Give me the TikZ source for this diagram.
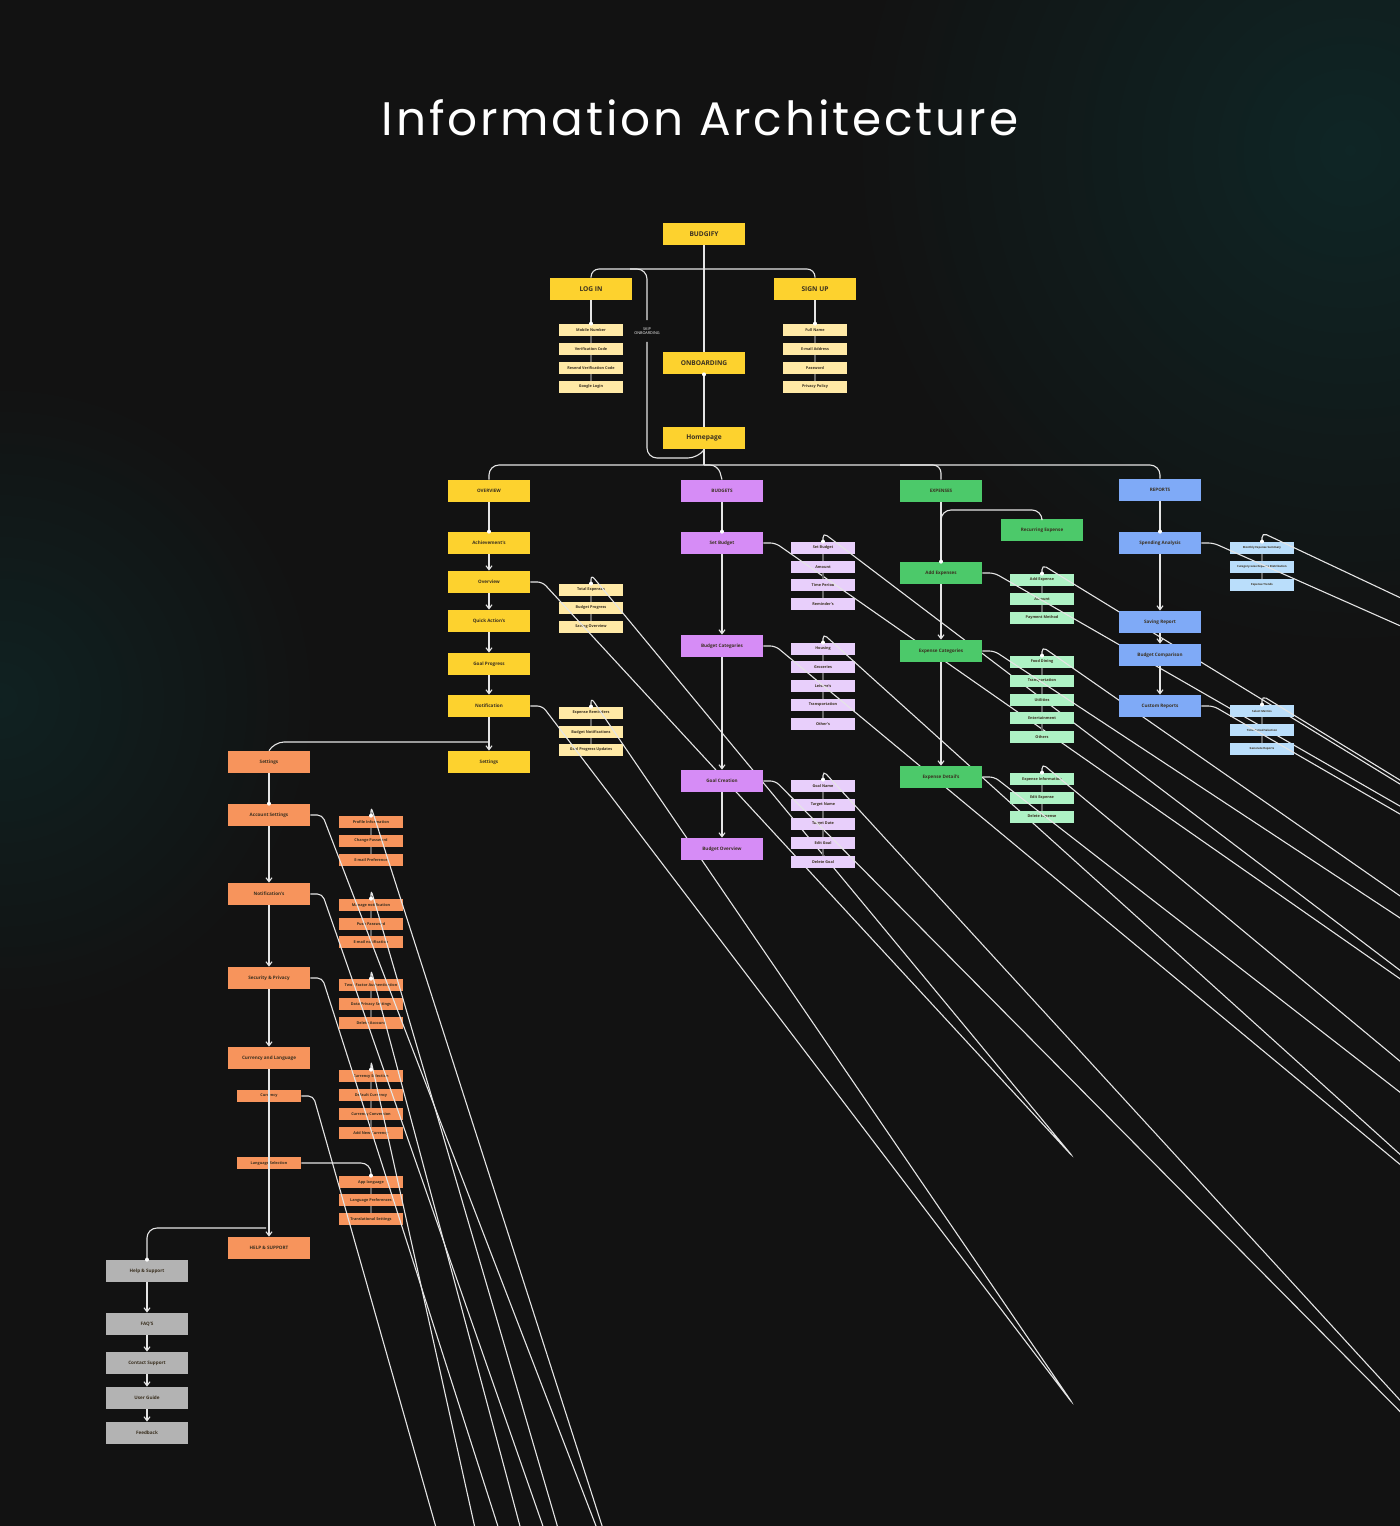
\documentclass[tikz,border=0pt]{standalone}
\usepackage{fontspec}
\setmainfont{Open Sans}
\newfontfamily\titlefont[LetterSpace=6]{Poppins}
\usetikzlibrary{calc,arrows.meta}
\definecolor{bg}{HTML}{121212}
\definecolor{yM}{HTML}{FDD22E}\definecolor{yS}{HTML}{FFE9A6}
\definecolor{pM}{HTML}{D68CF6}\definecolor{pS}{HTML}{E8CFFB}
\definecolor{gM}{HTML}{4CC96A}\definecolor{gS}{HTML}{AEF2C5}
\definecolor{bM}{HTML}{7FAAF7}\definecolor{bS}{HTML}{BADEFB}
\definecolor{oM}{HTML}{F7945C}\definecolor{grM}{HTML}{B3B3B3}
\definecolor{txt}{HTML}{3A3020}
\tikzset{
 box/.style={draw=none,inner sep=0pt,text=txt,align=center},
 top/.style={box,fill=yM,minimum width=41pt,minimum height=11pt,font=\fontsize{3.3}{4}\selectfont\bfseries},
 mainb/.style={box,minimum width=41pt,minimum height=11pt,font=\fontsize{2.3}{3}\selectfont\bfseries},
 subb/.style={box,minimum width=32pt,minimum height=6pt,font=\fontsize{1.9}{2.4}\selectfont\bfseries},
 link/.style={draw=white!90!black,line width=0.55pt},
 arr/.style={link,-{Straight Barb[length=2pt,width=3pt]}},
 chn/.style={draw=black!60,line width=0.8pt},
}
\newcommand\sidelink[2]{\draw[link,rounded corners=2.5pt] (#1.east) -- ($(#1.east)+(12,0)$) -- ($(#1.east)+(12,0)!1!(#1.east |- #2.north)+(12,-9)$) -- ($(#2.north)+(0,-9)$) -- (#2.north); \fill[white] (#2.north) circle (1pt);}
\newcommand\dotat[1]{\fill[white] (#1.north) circle (1pt);}
\begin{document}
\begin{tikzpicture}[x=0.5pt,y=-0.5pt]
\useasboundingbox (0,0) rectangle (1400,1526);
\fill[bg] (0,0) rectangle (1400,1526);
\begin{scope}
\clip (0,0) rectangle (1400,1526);
\shade[inner color=teal!18!bg, outer color=bg] (1350,150) circle (250pt);
\shade[inner color=teal!14!bg, outer color=bg] (0,700) circle (160pt);
\end{scope}
\node[text=white,font=\titlefont\fontsize{23.5}{28}\selectfont] (title) at (700,118) {Information Architecture};
% top
\node[top] (b) at (704,234) {BUDGIFY};
\node[top] (login) at (591,289) {LOG IN};
\node[top] (signup) at (815,289) {SIGN UP};
\node[top] (onb) at (704,363) {ONBOARDING};
\node[top] (home) at (704,438) {Homepage};
\foreach \n/\y/\t in {l1/330/Mobile Number,l2/349/Verification Code,l3/368/Resend Verification Code,l4/387/Google Login}{\node[subb,fill=yS] (\n) at (591,\y) {\t};}
\foreach \n/\y/\t in {s1/330/Full Name,s2/349/E-mail Address,s3/368/Password,s4/387/Privacy Policy}{\node[subb,fill=yS] (\n) at (815,\y) {\t};}
\node[text=white,font=\fontsize{1.9}{2.3}\selectfont,align=center] (skip) at (647,331) {SKIP\\ONBOARDING};
\draw[link,rounded corners=4pt] (login.north) -- (591,269) -- (815,269) -- (signup.north);
\draw[link] (b.south) -- (onb.north);
\draw[link] (onb.south) -- (home.north);
\draw[link,rounded corners=5pt] (630,269) -- (647,269) -- (skip.north);
\draw[link,rounded corners=5pt] (skip.south) -- (647,458) -- (698,458) -- (704,450);
\fill[white] (onb.south) circle (1pt);
\draw[link] (login.south) -- (l1.north); \dotat{l1}
\draw[link] (signup.south) -- (s1.north); \dotat{s1}
\foreach \a/\c in {l1/l2,l2/l3,l3/l4,s1/s2,s2/s3,s3/s4}{\draw[chn] (\a.south) -- (\c.north);}
% level 2
\node[mainb,fill=yM] (ov) at (489,491) {OVERVIEW};
\node[mainb,fill=pM] (bu) at (722,491) {BUDGETS};
\node[mainb,fill=gM] (ex) at (941,491) {EXPENSES};
\node[mainb,fill=bM] (re) at (1160,490) {REPORTS};
\draw[link,rounded corners=5pt] (ov.north) -- (489,465) -- (1160,465) -- (re.north);
\draw[link] (home.south) -- (704,465);
\draw[link,rounded corners=4pt] (704,465) -- (718,465) -- (bu.north);
\draw[link,rounded corners=4pt] (900,465) -- (941,465) -- (ex.north);
% overview column
\foreach \n/\y/\t in {o1/543/Achievement's,o2/582/Overview,o3/621/Quick Action's,o4/664/Goal Progress,o5/706/Notification,o6/762/Settings}{\node[mainb,fill=yM] (\n) at (489,\y) {\t};}
\draw[link] (ov.south) -- (o1.north); \dotat{o1}
\foreach \a/\c in {o1/o2,o2/o3,o3/o4,o4/o5,o5/o6}{\draw[arr] (\a.south) -- (\c.north);}
\foreach \n/\y/\t in {oa/590/Total Expenses,ob/608/Budget Progress,oc/627/Saving Overview,od/713/Expense Reminders,oe/732/Budget Notifications,of/750/Goal Progress Updates}{\node[subb,fill=yS] (\n) at (591,\y) {\t};}
\sidelink{o2}{oa}\sidelink{o5}{od}
\foreach \a/\c in {oa/ob,ob/oc,od/oe,oe/of}{\draw[chn] (\a.south) -- (\c.north);}
% budgets column
\foreach \n/\y/\t in {b1/543/Set Budget,b2/646/Budget Categories,b3/781/Goal Creation,b4/849/Budget Overview}{\node[mainb,fill=pM] (\n) at (722,\y) {\t};}
\draw[link] (bu.south) -- (b1.north); \dotat{b1}
\foreach \a/\c in {b1/b2,b2/b3,b3/b4}{\draw[arr] (\a.south) -- (\c.north);}
\foreach \n/\y/\t in {ba/548/Set Budget,bb/567/Amount,bc/585/Time Period,bd/604/Reminder's,be/649/Housing,bf/667/Groceries,bg/686/Leisure's,bh/705/Transportation,bi/724/Other's,bj/786/Goal Name,bk/805/Target Name,bl/824/Target Date,bm/843/Edit Goal,bn/862/Delete Goal}{\node[subb,fill=pS] (\n) at (823,\y) {\t};}
\sidelink{b1}{ba}\sidelink{b2}{be}\sidelink{b3}{bj}
\foreach \a/\c in {ba/bb,bb/bc,bc/bd,be/bf,bf/bg,bg/bh,bh/bi,bj/bk,bk/bl,bl/bm,bm/bn}{\draw[chn] (\a.south) -- (\c.north);}
% expenses column
\node[mainb,fill=gM] (rec) at (1042,530) {Recurring Expense};
\foreach \n/\y/\t in {e1/573/Add Expenses,e2/651/Expense Categories,e3/777/Expense Detail's}{\node[mainb,fill=gM] (\n) at (941,\y) {\t};}
\draw[link] (ex.south) -- (e1.north); \dotat{e1}
\draw[link,rounded corners=5pt] (941,530) -- (941,510) -- (1042,510) -- (rec.north);
\foreach \a/\c in {e1/e2,e2/e3}{\draw[arr] (\a.south) -- (\c.north);}
\foreach \n/\y/\t in {ea/580/Add Expense,eb/599/Amount,ec/618/Payment Method,ed/662/Food Dining,ee/681/Transportation,ef/700/Utilities,eg/718/Entertainment,eh/737/Others,ei/779/Expense Information,ej/798/Edit Expense,ek/817/Delete Expense}{\node[subb,fill=gS] (\n) at (1042,\y) {\t};}
\sidelink{e1}{ea}\sidelink{e2}{ed}\sidelink{e3}{ei}
\foreach \a/\c in {ea/eb,eb/ec,ed/ee,ee/ef,ef/eg,eg/eh,ei/ej,ej/ek}{\draw[chn] (\a.south) -- (\c.north);}
% reports column
\foreach \n/\y/\t in {r1/543/Spending Analysis,r2/622/Saving Report,r3/655/Budget Comparison,r4/706/Custom Reports}{\node[mainb,fill=bM] (\n) at (1160,\y) {\t};}
\draw[link] (re.south) -- (r1.north); \dotat{r1}
\foreach \a/\c in {r1/r2,r2/r3,r3/r4}{\draw[arr] (\a.south) -- (\c.north);}
\foreach \n/\y/\t in {ra/548/Monthly Expense Summary,rb/567/Category-wise Expense Distribution,rc/585/Expense Trends,rd/711/Select Metrics,rf/730/Time Period Selection,rg/749/Generate Reports}{\node[subb,fill=bS,font=\fontsize{1.4}{2}\selectfont\bfseries] (\n) at (1262,\y) {\t};}
\sidelink{r1}{ra}\sidelink{r4}{rd}
\foreach \a/\c in {ra/rb,rb/rc,rd/rf,rf/rg}{\draw[chn] (\a.south) -- (\c.north);}
% settings column
\foreach \n/\y/\t in {t0/762/Settings,t1/815/Account Settings,t2/894/Notification's,t3/978/Security \& Privacy,t4/1058/Currency and Language,t7/1248/HELP \& SUPPORT}{\node[mainb,fill=oM] (\n) at (269,\y) {\t};}
\node[subb,fill=oM] (t5) at (269,1096) {Currency};
\node[subb,fill=oM] (t6) at (269,1163) {Language Selection};
\draw[link,rounded corners=5pt] (489,742) -- (274,742) -- (t0.north);
\draw[link] (t0.south) -- (t1.north); \dotat{t1}
\foreach \a/\c in {t1/t2,t2/t3,t3/t4}{\draw[arr] (\a.south) -- (\c.north);}
\draw[arr] (t4.south) -- (t7.north);
\foreach \n/\y/\t in {ta/822/Profile Information,tb/841/Change Password,tc/860/E-mail Preference,td/905/Manage notification,te/924/Push Password,tf/942/E-mail notification,tg/985/Two - Factor Authentication,th/1004/Data Privacy Settings,ti/1023/Delete Account,tj/1076/Currency Selection,tk/1095/Default Currency,tl/1114/Currency Conversion,tm/1133/Add New Currency,tn/1182/App language,to/1200/Language Preferences,tp/1219/Translational Settings}{\node[subb,fill=oM] (\n) at (371,\y) {\t};}
\sidelink{t1}{ta}\sidelink{t2}{td}\sidelink{t3}{tg}\sidelink{t5}{tj}
\draw[link,rounded corners=5pt] (t6.east) -- (371,1163) -- (tn.north); \dotat{tn}
\foreach \a/\c in {ta/tb,tb/tc,td/te,te/tf,tg/th,th/ti,tj/tk,tk/tl,tl/tm,tn/to,to/tp}{\draw[chn] (\a.south) -- (\c.north);}
% help column
\foreach \n/\y/\t in {h1/1271/Help \& Support,h2/1324/FAQ'S,h3/1363/Contact Support,h4/1398/User Guide,h5/1433/Feedback}{\node[mainb,fill=grM] (\n) at (147,\y) {\t};}
\draw[link,rounded corners=5pt] (266,1228) -- (147,1228) -- (h1.north); \dotat{h1}
\foreach \a/\c in {h1/h2,h2/h3,h3/h4,h4/h5}{\draw[arr] (\a.south) -- (\c.north);}
\end{tikzpicture}
\end{document}
